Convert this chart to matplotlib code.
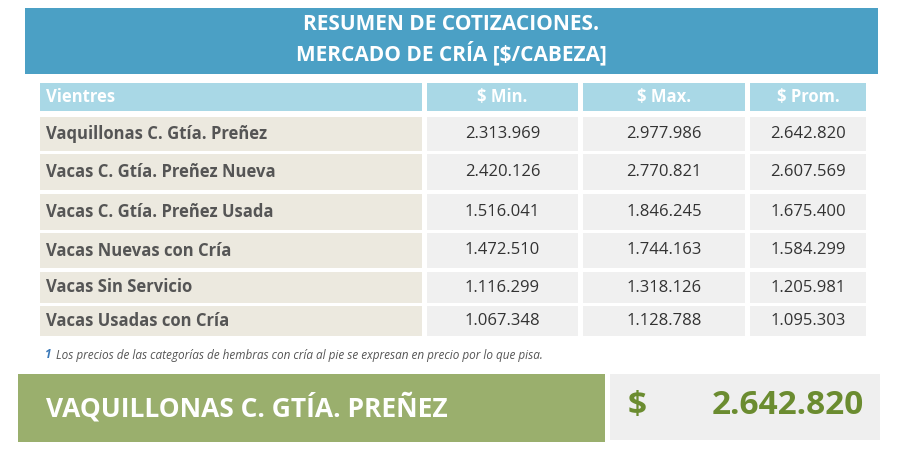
import matplotlib
matplotlib.use("Agg")
import matplotlib.pyplot as plt
from matplotlib.patches import Rectangle

title_lines = ["RESUMEN DE COTIZACIONES.", "MERCADO DE CRÍA [$/CABEZA]"]
headers = ["Vientres", "$ Min.", "$ Max.", "$ Prom."]
categories = ["Vaquillonas C. Gtía. Preñez", "Vacas C. Gtía. Preñez Nueva",
              "Vacas C. Gtía. Preñez Usada", "Vacas Nuevas con Cría",
              "Vacas Sin Servicio", "Vacas Usadas con Cría"]
min_vals = ["2.313.969", "2.420.126", "1.516.041", "1.472.510", "1.116.299", "1.067.348"]
max_vals = ["2.977.986", "2.770.821", "1.846.245", "1.744.163", "1.318.126", "1.128.788"]
prom_vals = ["2.642.820", "2.607.569", "1.675.400", "1.584.299", "1.205.981", "1.095.303"]
footnote = "Los precios de las categorías de hembras con cría al pie se expresan en precio por lo que pisa."
highlight_label = "VAQUILLONAS C. GTÍA. PREÑEZ"
highlight_value = "2.642.820"

plt.rcParams['font.family'] = ['Open Sans', 'DejaVu Sans']
fig = plt.figure(figsize=(9.24, 4.57), dpi=100)
ax = fig.add_axes([0, 0, 1, 1])
ax.set_xlim(0, 924); ax.set_ylim(457, 0); ax.axis('off')

def rect(x0, y0, x1, y1, c):
    ax.add_patch(Rectangle((x0, y0), x1 - x0, y1 - y0, color=c, lw=0))

rect(25, 8, 878, 74, '#4ba0c5')
ax.text(451, 25, title_lines[0], ha='center', va='center', color='white', fontsize=15, fontweight='bold')
ax.text(451, 53, title_lines[1], ha='center', va='center', color='white', fontsize=15, fontweight='bold')

cols = [(40, 422), (427, 578), (583, 745), (750, 866)]
for i, (a, b) in enumerate(cols):
    rect(a, 83, b, 111, '#a9d8e6')
    if i == 0:
        ax.text(a + 6, 97, headers[i], ha='left', va='center', color='white', fontsize=12, fontweight='bold')
    else:
        ax.text((a + b) / 2, 97, headers[i], ha='center', va='center', color='white', fontsize=12, fontweight='bold')

rows = [(117, 151), (154, 190), (194, 230), (233, 268), (272, 303), (306, 336)]
for r, (y0, y1) in enumerate(rows):
    yc = (y0 + y1) / 2
    rect(cols[0][0], y0, cols[0][1], y1, '#ece9df')
    ax.text(cols[0][0] + 6, yc, categories[r], ha='left', va='center', color='#555555', fontsize=12, fontweight='bold')
    for (a, b), vals in zip(cols[1:], [min_vals, max_vals, prom_vals]):
        rect(a, y0, b, y1, '#f0f0f0')
        ax.text((a + b) / 2, yc, vals[r], ha='center', va='center', color='#333333', fontsize=12)

ax.text(45, 355, "1", ha='left', va='center', color='#3a78b8', fontsize=8.5, fontweight='bold', style='italic')
ax.text(56, 355, footnote, ha='left', va='center', color='#555555', fontsize=8.5, style='italic')

rect(18, 374, 605, 442, '#9aaf6d')
rect(610, 374, 880, 440, '#efefef')
ax.text(46, 408, highlight_label, ha='left', va='center', color='white', fontsize=19, fontweight='bold')
ax.text(628, 406, "$", ha='left', va='center', color='#6b8c30', fontsize=24, fontweight='bold')
ax.text(864, 406, highlight_value, ha='right', va='center', color='#6b8c30', fontsize=24, fontweight='bold')

fig.savefig('out.png', dpi=100)
